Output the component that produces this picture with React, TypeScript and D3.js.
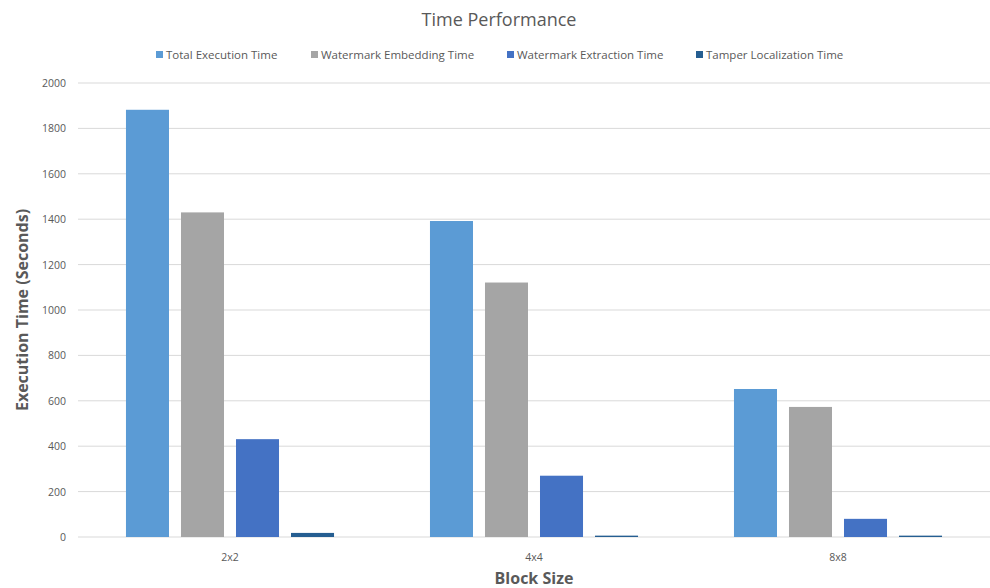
import React from "react";
import * as d3 from "d3";

const categories = ["2x2", "4x4", "8x8"];
const seriesNames = [
  "Total Execution Time",
  "Watermark Embedding Time",
  "Watermark Extraction Time",
  "Tamper Localization Time",
];
const totalExecution = [1882, 1392, 652];
const embedding = [1430, 1121, 573];
const extraction = [431, 270, 80];
const tamperLocalization = [18, 6, 6];
const yTicks = [0, 200, 400, 600, 800, 1000, 1200, 1400, 1600, 1800, 2000];
const colors = ["#5B9BD5", "#A5A5A5", "#4472C4", "#255E91"];

const W = 990;
const H = 588;
const FONT = "'Open Sans', 'Noto Sans', sans-serif";

export default function App() {
  const seriesValues = [totalExecution, embedding, extraction, tamperLocalization];
  const left = 78;
  const right = 990;
  const top = 83;
  const bottom = 537;

  const y = d3.scaleLinear().domain([0, 2000]).range([bottom, top]);
  const x0 = d3.scaleBand<string>().domain(categories).range([left, right]).padding(0);
  const x1 = d3
    .scaleBand<string>()
    .domain(seriesNames)
    .range([0, x0.bandwidth()])
    .paddingInner(0.218)
    .paddingOuter(0.872);

  const legendX = [156, 311, 507, 696];

  return (
    <svg
      width={W}
      height={H}
      style={{ position: "absolute", left: 0, top: 0, background: "#fff" }}
      fontFamily={FONT}
    >
      <rect width={W} height={H} fill="#fff" />
      <text x={499} y={26} textAnchor="middle" fontSize={18} fill="#595959">
        Time Performance
      </text>

      {seriesNames.map((s, i) => (
        <g key={s}>
          <rect x={legendX[i]} y={51} width={7} height={7} fill={colors[i]} />
          <text x={legendX[i] + 10} y={59} fontSize={11.5} fill="#595959">
            {s}
          </text>
        </g>
      ))}

      {yTicks.map((t) => (
        <g key={t}>
          <line
            x1={left}
            x2={right}
            y1={y(t)}
            y2={y(t)}
            stroke="#D9D9D9"
            strokeWidth={1}
          />
          <text
            x={66}
            y={y(t) + 4}
            textAnchor="end"
            fontSize={10.5}
            fill="#595959"
          >
            {t}
          </text>
        </g>
      ))}

      {categories.map((c, ci) => (
        <g key={c} transform={`translate(${x0(c)},0)`}>
          {seriesNames.map((s, si) => {
            const v = seriesValues[si][ci];
            return (
              <rect
                key={s}
                x={x1(s)}
                y={y(v)}
                width={x1.bandwidth()}
                height={y(0) - y(v)}
                fill={colors[si]}
              />
            );
          })}
          <text
            x={x0.bandwidth() / 2}
            y={561}
            textAnchor="middle"
            fontSize={10.5}
            fill="#595959"
          >
            {c}
          </text>
        </g>
      ))}

      <text
        x={534}
        y={584}
        textAnchor="middle"
        fontSize={16}
        fontWeight="bold"
        fill="#595959"
      >
        Block Size
      </text>
      <text
        transform={`translate(28,${(top + bottom) / 2}) rotate(-90)`}
        textAnchor="middle"
        fontSize={16}
        fontWeight="bold"
        fill="#595959"
      >
        Execution Time (Seconds)
      </text>
    </svg>
  );
}
